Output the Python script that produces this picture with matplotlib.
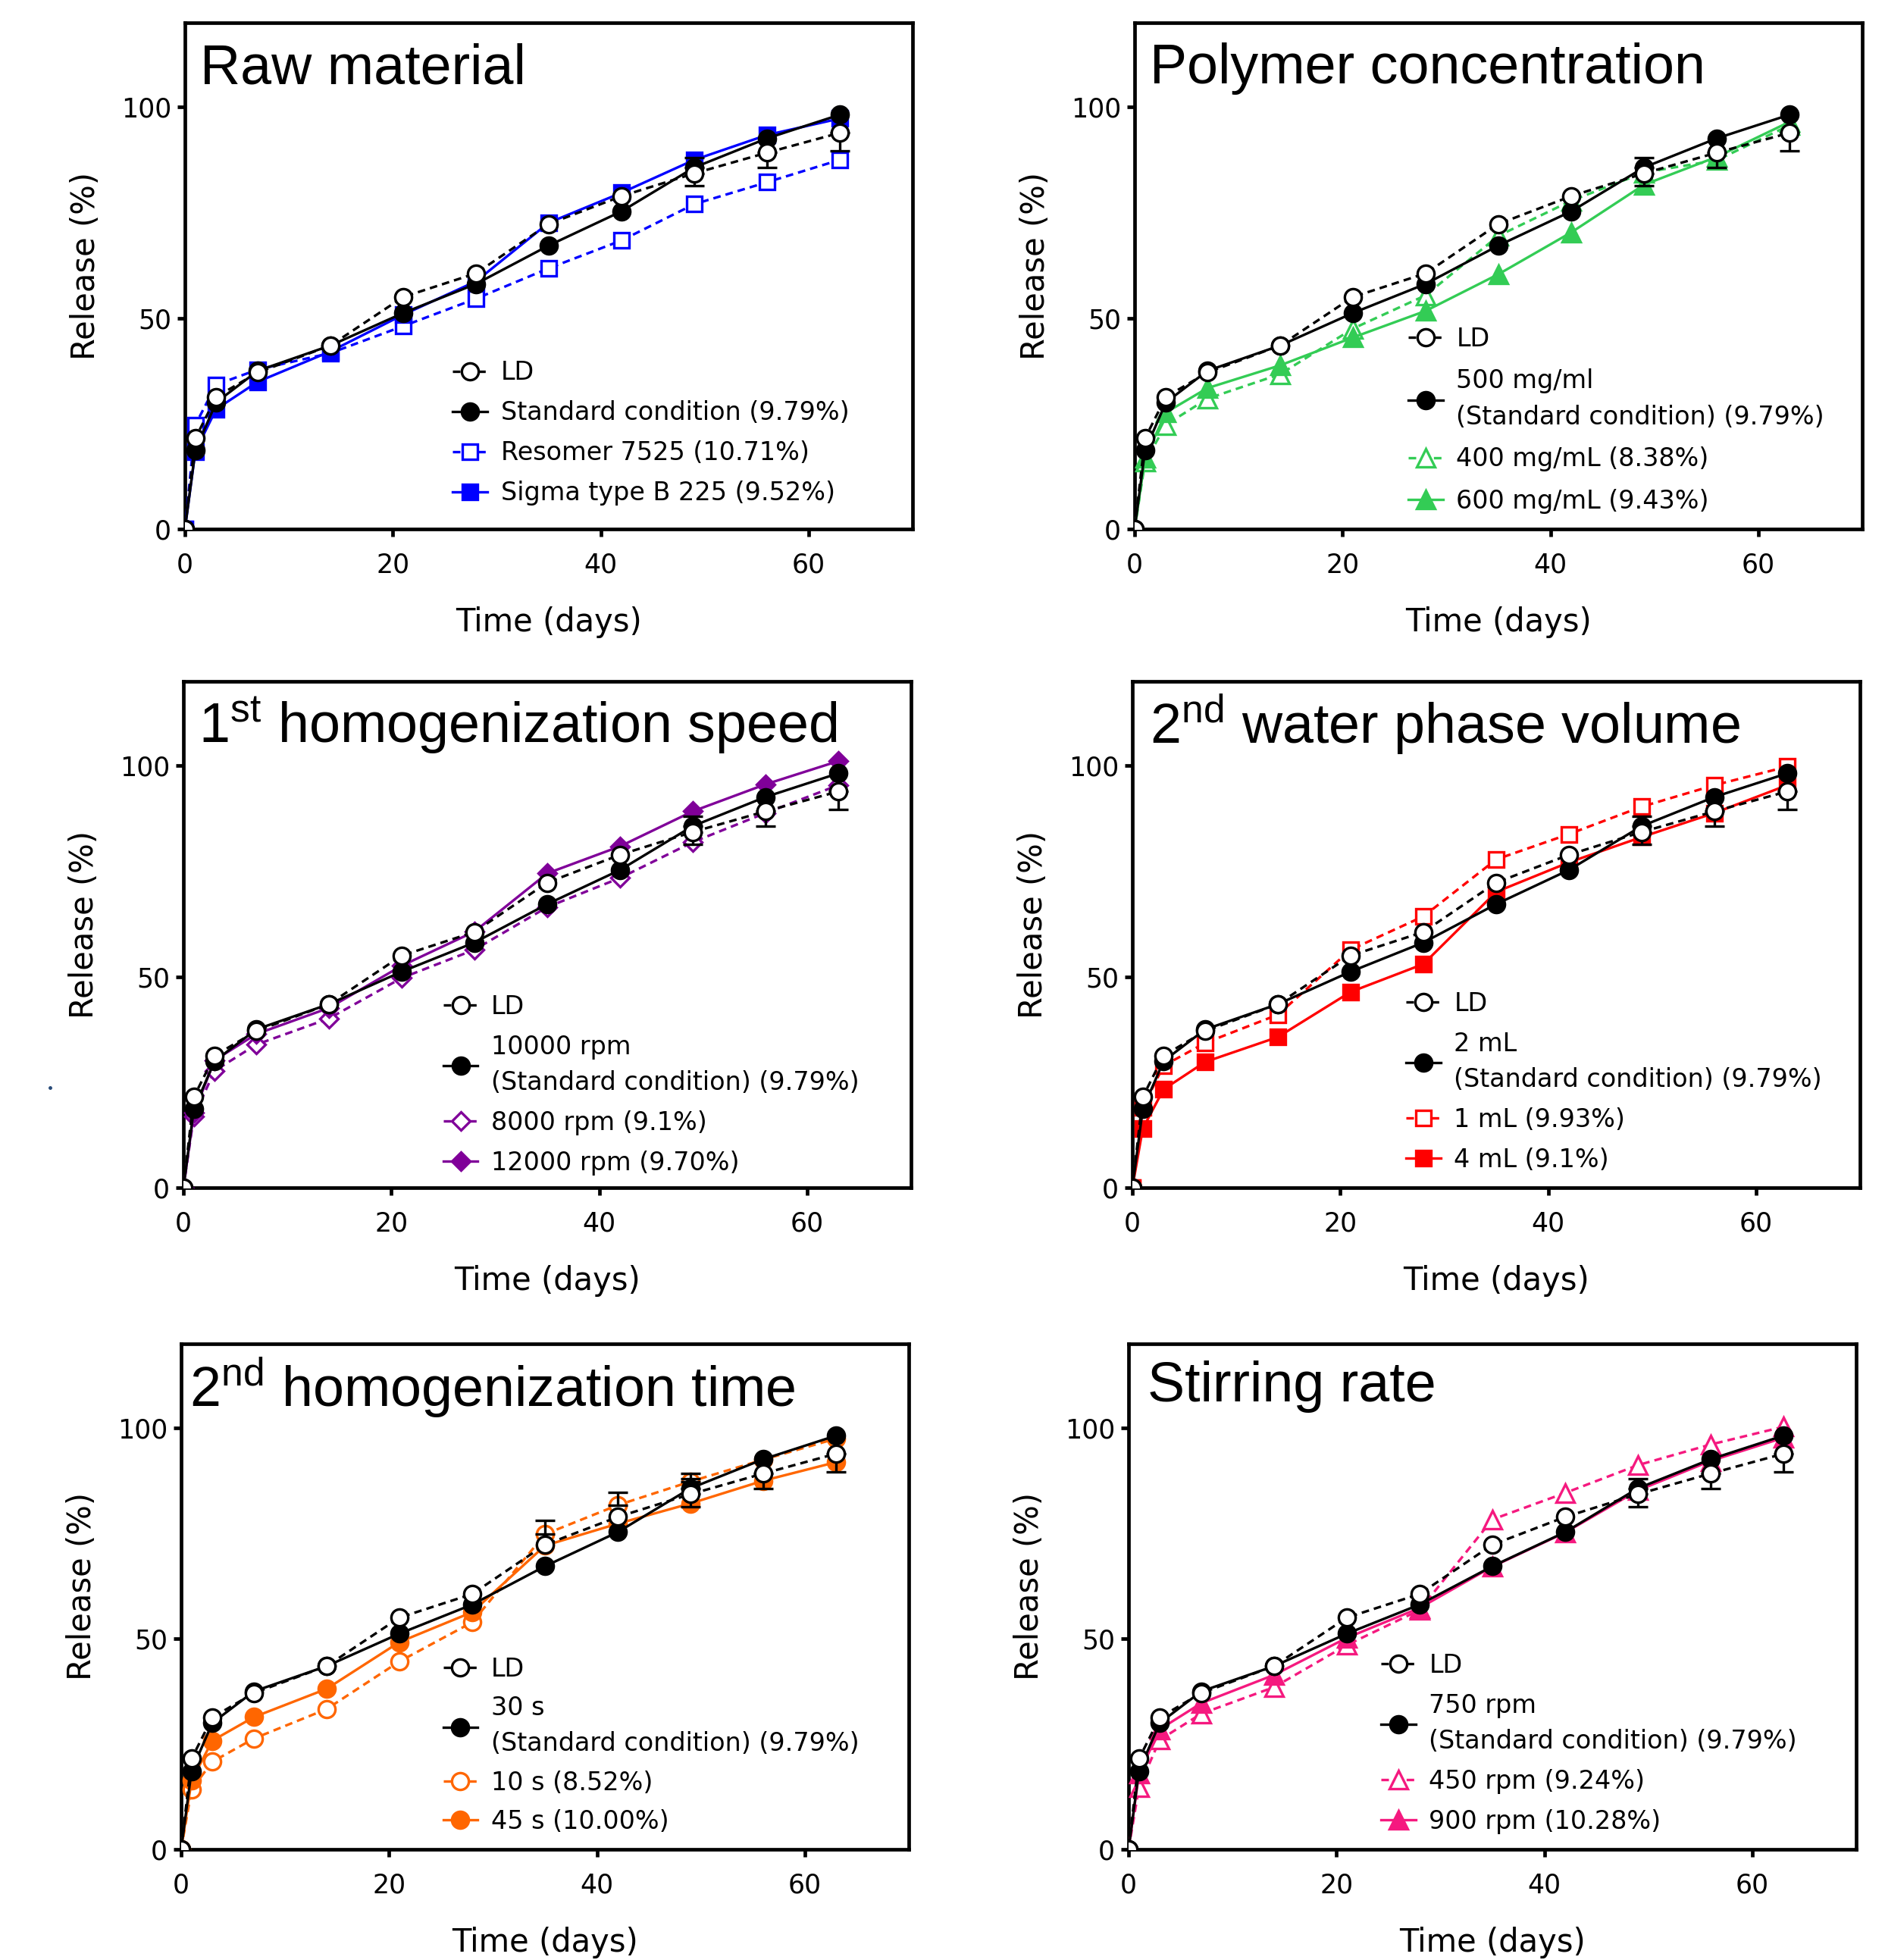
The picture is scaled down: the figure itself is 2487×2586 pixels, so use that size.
import numpy as np
import matplotlib
matplotlib.use("Agg")
import matplotlib.pyplot as plt
from matplotlib.lines import Line2D

plt.rcParams.update({
    "font.family": ["DejaVu Sans"],
    "mathtext.fontset": "custom",
    "mathtext.rm": "Liberation Sans",
    "mathtext.it": "Liberation Sans:italic",
    "mathtext.bf": "Liberation Sans:bold",
})
TITLE_FONT = ["Liberation Sans", "DejaVu Sans"]

# ---- data (release %) ----
days = [0, 1, 3, 7, 14, 21, 28, 35, 42, 49, 56, 63]

ld = [0, 21.5, 31.3, 37.1, 43.5, 55.0, 60.6, 72.3, 78.9, 84.3, 89.2, 93.9]
ld_err_low = [0, 0, 0, 0, 0, 0, 0, 0, 0, 2.9, 3.6, 4.3]

standard = [0, 18.6, 30.0, 37.5, 43.5, 51.2, 58.1, 67.2, 75.3, 85.7, 92.6, 98.2]
standard_err_up = [0, 0, 0, 0, 0, 0, 0, 0, 0, 2.3, 0, 0]

resomer_7525 = [0, 24.7, 34.2, 37.8, 41.7, 48.1, 54.6, 61.8, 68.4, 77.0, 82.2, 87.5]
sigma_b225 = [0, 18.4, 28.4, 34.9, 42.1, 50.8, 58.7, 72.6, 79.7, 87.5, 93.4, 97.3]

polymer_400 = [0, 15.9, 24.7, 30.9, 36.7, 47.5, 55.4, 69.5, 77.8, 84.5, 87.4, 95.7]
polymer_600 = [0, 16.8, 27.6, 33.4, 38.8, 45.4, 51.7, 60.4, 70.3, 81.6, 88.2, 96.5]

rpm_8000 = [0, 16.9, 27.7, 33.9, 40.1, 49.7, 56.4, 66.5, 73.4, 81.9, 88.8, 95.4]
rpm_12000 = [0, 17.7, 30.2, 36.4, 42.6, 52.6, 60.7, 74.5, 80.9, 89.2, 95.6, 101.1]

water_1ml = [0, 19.0, 28.9, 34.3, 41.0, 56.4, 64.3, 77.8, 83.8, 90.3, 95.4, 99.8]
water_4ml = [0, 14.0, 23.3, 29.8, 35.7, 46.4, 53.0, 70.1, 77.1, 83.1, 88.8, 95.4]

homog_10s = [0, 14.2, 20.8, 26.3, 33.3, 44.6, 53.9, 74.8, 81.7, 87.3, 92.5, 97.5]
homog_10s_err_up = [0, 0, 0, 0, 0, 0, 0, 3.3, 3.0, 2.0, 0, 0]
homog_45s = [0, 16.3, 25.8, 31.4, 38.1, 49.2, 56.3, 72.1, 77.3, 82.1, 87.5, 91.9]

stir_450 = [0, 14.7, 26.0, 32.2, 38.5, 48.5, 56.8, 78.3, 84.6, 91.2, 96.1, 100.3]
stir_900 = [0, 18.0, 28.5, 34.7, 41.4, 50.2, 57.3, 67.1, 75.2, 85.2, 92.2, 97.7]

titles = ["Raw material", "Polymer concentration",
          r"1$^{\mathrm{st}}$ homogenization speed",
          r"2$^{\mathrm{nd}}$ water phase volume",
          r"2$^{\mathrm{nd}}$ homogenization time", "Stirring rate"]

standard_labels = ["Standard condition (9.79%)",
                   "500 mg/ml\n(Standard condition) (9.79%)",
                   "10000 rpm\n(Standard condition) (9.79%)",
                   "2 mL\n(Standard condition) (9.79%)",
                   "30 s\n(Standard condition) (9.79%)",
                   "750 rpm\n(Standard condition) (9.79%)"]

cond_open = [resomer_7525, polymer_400, rpm_8000, water_1ml, homog_10s, stir_450]
cond_filled = [sigma_b225, polymer_600, rpm_12000, water_4ml, homog_45s, stir_900]
open_labels = ["Resomer 7525 (10.71%)", "400 mg/mL (8.38%)", "8000 rpm (9.1%)",
               "1 mL (9.93%)", "10 s (8.52%)", "450 rpm (9.24%)"]
filled_labels = ["Sigma type B 225 (9.52%)", "600 mg/mL (9.43%)", "12000 rpm (9.70%)",
                 "4 mL (9.1%)", "45 s (10.00%)", "900 rpm (10.28%)"]
open_err_up = [None, None, None, None, homog_10s_err_up, None]

# ---- styles / layout ----
colors = ["#0000FF", "#33CC55", "#800099", "#FF0000", "#FF6600", "#F5197F"]
markers = ["s", "^", "D", "s", "o", "^"]
msizes = {"o": 16, "s": 15, "^": 17, "D": 12}

W, H = 2487, 2586
# axes boxes in pixels: left, top, right, bottom
boxes = [(244, 30, 1204, 698), (1497, 30, 2457, 698),
         (242, 899, 1202, 1567), (1494, 899, 2454, 1567),
         (239, 1773, 1199, 2440), (1489, 1773, 2449, 2440)]
legend_xy = [(0.368, 0.046), (0.376, 0.030), (0.357, 0.024),
             (0.376, 0.030), (0.360, 0.030), (0.347, 0.030)]
legend_gap = [0.6, 0.68, 0.6, 0.6, 0.55, 0.6]
title_xy = [(0.021, 0.880), (0.021, 0.880), (0.021, 0.878),
            (0.024, 0.878), (0.011, 0.876), (0.026, 0.886)]

LW = 2.4
DASH = (3, 2)


def add_errors(ax, x, y, low=None, up=None, z=4.5):
    x = np.asarray(x, float)
    y = np.asarray(y, float)
    lo = np.zeros_like(y) if low is None else np.asarray(low, float)
    hi = np.zeros_like(y) if up is None else np.asarray(up, float)
    for arr, which in ((lo, "low"), (hi, "up")):
        keep = arr > 0
        if not keep.any():
            continue
        zero = np.zeros(keep.sum())
        err = [arr[keep], zero] if which == "low" else [zero, arr[keep]]
        ax.errorbar(x[keep], y[keep], yerr=err, fmt="none", ecolor="black",
                    elinewidth=LW, capsize=9.5, capthick=LW, zorder=z)


fig = plt.figure(figsize=(W / 100, H / 100), dpi=100)

for i in range(6):
    l, t, r, b = boxes[i]
    ax = fig.add_axes([l / W, 1 - b / H, (r - l) / W, (b - t) / H])
    c = colors[i]
    m = markers[i]
    ms = msizes[m]

    ax.plot(days, cond_open[i], color=c, ls="--", dashes=DASH, lw=LW, marker=m, ms=ms,
            mfc="white", mec=c, mew=LW, zorder=3)
    ax.plot(days, cond_filled[i], color=c, ls="-", lw=LW, marker=m, ms=ms,
            mfc=c, mec=c, mew=LW, zorder=3)
    if open_err_up[i] is not None:
        add_errors(ax, days, cond_open[i], up=open_err_up[i], z=3.5)
    add_errors(ax, days, standard, up=standard_err_up, z=3.8)
    ax.plot(days, standard, color="black", ls="-", lw=LW, marker="o", ms=16,
            mfc="black", mec="black", mew=LW, zorder=4)
    add_errors(ax, days, ld, low=ld_err_low, z=4.5)
    ax.plot(days, ld, color="black", ls="--", dashes=DASH, lw=LW, marker="o", ms=16,
            mfc="white", mec="black", mew=LW, zorder=5)

    ax.set_xlim(0, 70)
    ax.set_ylim(0, 120)
    ax.set_xticks([0, 20, 40, 60])
    ax.set_yticks([0, 50, 100])
    ax.tick_params(direction="out", length=7, width=3.4, labelsize=25)
    ax.tick_params(axis="x", pad=15)
    ax.tick_params(axis="y", pad=6)
    for s in ax.spines.values():
        s.set_linewidth(3.4)

    ax.set_xlabel("Time (days)", fontsize=30)
    ax.xaxis.label.set_va("center")
    ax.xaxis.set_label_coords(0.5, -0.184)
    ax.set_ylabel("Release (%)", fontsize=30)
    ax.yaxis.label.set_va("center")
    ax.yaxis.set_label_coords(-0.136, 0.52)

    tx, ty = title_xy[i]
    ax.text(tx, ty, titles[i], transform=ax.transAxes, fontsize=53,
            family=TITLE_FONT, ha="left", va="baseline")

    handles = [
        Line2D([], [], color="black", ls="--", dashes=DASH, lw=LW, marker="o", ms=16,
               mfc="white", mec="black", mew=LW),
        Line2D([], [], color="black", ls="-", lw=LW, marker="o", ms=16,
               mfc="black", mec="black", mew=LW),
        Line2D([], [], color=c, ls="--", dashes=DASH, lw=LW, marker=m, ms=ms,
               mfc="white", mec=c, mew=LW),
        Line2D([], [], color=c, ls="-", lw=LW, marker=m, ms=ms,
               mfc=c, mec=c, mew=LW),
    ]
    labels = ["LD", standard_labels[i], open_labels[i], filled_labels[i]]
    leg = ax.legend(handles, labels, loc="lower left", bbox_to_anchor=legend_xy[i],
                    borderaxespad=0, borderpad=0, frameon=False, fontsize=24,
                    handlelength=1.37, handletextpad=0.53, labelspacing=legend_gap[i])
    for txt in leg.get_texts():
        txt.set_linespacing(1.55)

# small stray dot on the left margin
fig.add_artist(Line2D([66 / W], [1 - 1435 / H], marker="o", ms=2.5, color="#274a78",
                      transform=fig.transFigure))

fig.savefig("out.png", dpi=100)
